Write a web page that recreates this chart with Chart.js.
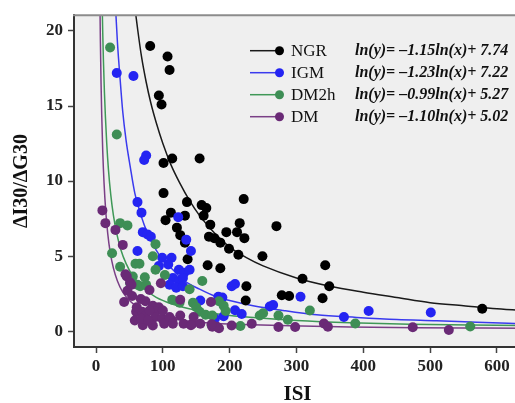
<!DOCTYPE html>
<html>
<head>
<meta charset="utf-8">
<script src="https://cdn.jsdelivr.net/npm/chart.js@4/dist/chart.umd.min.js"></script>
<style>
  body { margin: 0; overflow: hidden; background: #fff; }
  #wrap { width: 526px; height: 410px; }
</style>
</head>
<body>
<div id="wrap"><canvas id="chart" width="526" height="410"></canvas></div>
<script>
// --- data ---
const xTicks = [0, 100, 200, 300, 400, 500, 600];
const yTicks = [0, 5, 10, 15, 20];

const names = ['NGR', 'IGM', 'DM2h', 'DM'];
const equations = [
  'ln(y)= \u20131.15ln(x)+ 7.74',
  'ln(y)= \u20131.23ln(x)+ 7.22',
  'ln(y)= \u20130.99ln(x)+ 5.27',
  'ln(y)= \u20131.10ln(x)+ 5.02'
];
const dotColors = ['#000000', '#2424f2', '#3e8e55', '#6a2a76'];
const lineColors = ['#1a1a1a', '#3a3aee', '#3f9857', '#7a3f86'];

// scatter points
const ngrX = [81, 107, 110, 94, 98, 114, 155, 101, 101, 221, 136, 158, 165, 161, 112, 104, 133, 171, 215, 121, 126, 195, 211, 222, 169, 177, 186, 199, 213, 133, 137, 270, 249, 167, 186, 343, 225, 309, 349, 278, 289, 339, 224, 578];
const ngrY = [19.0, 18.3, 17.4, 15.7, 15.1, 11.5, 11.5, 11.2, 9.2, 8.8, 8.6, 8.4, 8.2, 7.7, 7.9, 7.4, 7.7, 7.1, 7.2, 6.9, 6.4, 6.6, 6.6, 6.2, 6.3, 6.2, 5.9, 5.5, 5.1, 5.9, 4.8, 7.0, 5.0, 4.4, 4.2, 4.4, 3.0, 3.5, 3.0, 2.4, 2.35, 2.2, 2.05, 1.5];

const igmX = [31, 56, 75, 72, 62, 68, 123, 70, 77, 82, 135, 142, 62, 99, 113, 94, 108, 124, 132, 140, 115, 124, 130, 110, 120, 130, 203, 208, 183, 189, 156, 260, 265, 208, 218, 191, 178, 306, 371, 408, 501];
const igmY = [17.2, 17.0, 11.7, 11.4, 8.6, 7.9, 7.6, 6.6, 6.45, 6.3, 6.1, 5.35, 5.35, 4.9, 4.9, 4.35, 4.45, 4.1, 3.9, 4.1, 3.55, 3.35, 3.55, 3.1, 2.9, 3.0, 3.0, 3.15, 2.3, 2.25, 2.05, 1.65, 1.75, 1.4, 1.15, 1.0, 0.85, 2.3, 0.95, 1.35, 1.25];

const dm2hX = [21, 31, 36, 47, 89, 24, 85, 59, 65, 36, 89, 103, 55, 73, 62, 66, 75, 51, 159, 140, 114, 125, 145, 150, 155, 164, 174, 184, 191, 194, 216, 173, 245, 250, 273, 287, 320, 388, 560];
const dm2hY = [18.9, 13.1, 7.2, 7.05, 5.8, 5.2, 5.0, 4.5, 4.5, 4.3, 4.1, 3.75, 3.65, 3.6, 3.1, 3.0, 3.1, 3.2, 3.35, 2.8, 2.1, 1.9, 1.9, 1.6, 1.3, 1.1, 1.05, 2.0, 1.7, 1.35, 0.35, 0.4, 1.05, 1.2, 1.05, 0.77, 1.38, 0.52, 0.32];

const dmX = [9.5, 14, 29, 40, 46, 51, 47, 54, 42, 60, 69, 97, 80, 67, 74, 85, 94, 89, 74, 82, 89, 99, 70, 85, 102, 114, 126, 131, 144, 156, 146, 126, 172, 181, 203, 233, 44, 53, 61, 80, 100, 58, 68, 78, 110, 115, 142, 174, 184, 173, 273, 298, 341, 347, 474, 528];
const dmY = [8.05, 7.2, 6.75, 5.75, 3.65, 3.25, 2.7, 2.35, 1.95, 1.3, 1.3, 3.2, 2.75, 2.15, 2.0, 1.7, 1.6, 1.3, 1.05, 0.72, 0.95, 0.83, 0.4, 0.38, 0.5, 0.72, 1.05, 0.5, 0.5, 0.5, 0.95, 2.1, 1.95, 0.3, 0.38, 0.5, 3.8, 3.1, 1.6, 1.38, 1.38, 0.72, 0.83, 0.72, 0.94, 0.5, 0.4, 0.3, 0.2, 0.46, 0.28, 0.28, 0.52, 0.3, 0.26, 0.08];

// fitted curves
const ngrFitX = [58, 62, 68, 75, 82, 90, 100, 112, 125, 140, 155, 170, 185, 200, 225, 250, 300, 350, 400, 450, 500, 550, 600, 650];
const ngrFitY = [21.6, 20.2, 18.3, 16.6, 15.2, 13.9, 12.5, 11.1, 9.9, 8.7, 7.7, 6.9, 6.2, 5.6, 4.9, 4.35, 3.55, 3.0, 2.6, 2.25, 1.9, 1.7, 1.5, 1.35];

const igmFitX = [29, 32, 36, 40, 45, 51, 58, 65, 72, 80, 90, 100, 115, 130, 155, 180, 200, 235, 280, 330, 390, 450, 510, 570, 640];
const igmFitY = [21.7, 19.25, 16.8, 14.6, 12.7, 11.0, 9.2, 8.05, 7.1, 6.25, 5.4, 4.75, 4.1, 3.43, 2.8, 2.3, 2.05, 1.7, 1.38, 1.09, 0.92, 0.78, 0.7, 0.6, 0.5];

const dm2hFitX = [9, 10, 11, 12.5, 14, 16, 18.5, 22, 26, 31, 37, 45, 55, 70, 90, 115, 150, 190, 240, 300, 380, 470, 560, 650];
const dm2hFitY = [22.1, 19.9, 18.1, 15.95, 14.3, 12.5, 10.8, 9.1, 7.72, 6.5, 5.45, 4.5, 3.68, 2.9, 2.26, 1.8, 1.4, 1.1, 0.9, 0.72, 0.57, 0.47, 0.42, 0.37];

const dmFitX = [5.7, 6.5, 7.5, 8.5, 10, 12, 14.5, 17.5, 21, 26, 32, 40, 50, 62, 78, 100, 130, 170, 220, 290, 380, 480, 580, 650];
const dmFitY = [22.3, 19.3, 16.5, 14.4, 12.0, 9.85, 8.0, 6.5, 5.3, 4.2, 3.35, 2.6, 2.05, 1.62, 1.26, 0.96, 0.72, 0.55, 0.45, 0.36, 0.29, 0.24, 0.21, 0.19];

// --- build datasets ---
const pts = (xs, ys) => xs.map((x, i) => ({ x: x, y: ys[i] }));
const scatterSets = [[ngrX, ngrY], [igmX, igmY], [dm2hX, dm2hY], [dmX, dmY]];
const fitSets = [[ngrFitX, ngrFitY], [igmFitX, igmFitY], [dm2hFitX, dm2hFitY], [dmFitX, dmFitY]];

const datasets = [];
fitSets.forEach((s, i) => {
  datasets.push({
    type: 'line',
    label: names[i] + ' fit',
    data: pts(s[0], s[1]),
    borderColor: lineColors[i],
    borderWidth: 1.5,
    pointRadius: 0,
    fill: false,
    cubicInterpolationMode: 'monotone',
    order: 20 + i
  });
});
scatterSets.forEach((s, i) => {
  datasets.push({
    type: 'scatter',
    label: names[i],
    data: pts(s[0], s[1]),
    backgroundColor: dotColors[i],
    borderWidth: 0,
    pointRadius: 5,
    pointHoverRadius: 5,
    order: 4 - i
  });
});

const serif = '"Liberation Serif", "Times New Roman", serif';

// plot background + top frame line
const frame = {
  id: 'frame',
  beforeDraw(chart) {
    const a = chart.chartArea, c = chart.ctx;
    c.save();
    c.fillStyle = '#efefef';
    c.fillRect(a.left, a.top, a.right - a.left, a.bottom - a.top);
    c.restore();
  },
  afterDraw(chart) {
    const a = chart.chartArea, c = chart.ctx;
    c.save();
    c.strokeStyle = '#8c8c8c';
    c.lineWidth = 2;
    c.beginPath();
    c.moveTo(a.left - 1, a.top);
    c.lineTo(a.right, a.top);
    c.stroke();
    c.restore();
  }
};

// legend with equations inside the plot
const legendBox = {
  id: 'legendBox',
  afterDatasetsDraw(chart) {
    const c = chart.ctx;
    c.save();
    names.forEach((n, i) => {
      const y = 50.7 + 22 * i;
      c.strokeStyle = lineColors[i];
      c.lineWidth = 1.5;
      c.beginPath();
      c.moveTo(250, y);
      c.lineTo(277, y);
      c.stroke();
      c.fillStyle = dotColors[i];
      c.beginPath();
      c.arc(279.5, y, 4.5, 0, Math.PI * 2);
      c.fill();
      c.fillStyle = '#111';
      c.textBaseline = 'middle';
      c.textAlign = 'left';
      c.font = '17px ' + serif;
      c.fillText(n, 291, y + 0.5);
      c.font = 'italic bold 16px ' + serif;
      c.fillText(equations[i], 355, y + 0.5);
    });
    c.restore();
  }
};

new Chart(document.getElementById('chart'), {
  type: 'scatter',
  data: { datasets: datasets },
  options: {
    responsive: false,
    animation: false,
    events: [],
    layout: { padding: { top: 10, left: 0, right: 0, bottom: 0 } },
    plugins: { legend: { display: false }, tooltip: { enabled: false } },
    scales: {
      x: {
        type: 'linear',
        min: -33,
        max: 636,
        afterFit: s => { s.height = 63; },
        afterBuildTicks: s => { s.ticks = xTicks.map(v => ({ value: v })); },
        border: { display: true, color: '#333', width: 2 },
        grid: { drawOnChartArea: false, drawTicks: true, tickLength: 6, tickColor: '#444', tickWidth: 1.5 },
        ticks: { color: '#222', padding: 3, maxRotation: 0, font: { family: serif, size: 17, weight: 'bold' } },
        title: { display: true, text: 'ISI', color: '#111', padding: { top: 0, bottom: 2.4 }, font: { family: serif, size: 21, weight: 'bold' } }
      },
      y: {
        type: 'linear',
        min: -1.05,
        max: 21.05,
        afterFit: s => { s.width = 74; },
        afterBuildTicks: s => { s.ticks = yTicks.map(v => ({ value: v })); },
        border: { display: true, color: '#333', width: 2 },
        grid: { drawOnChartArea: false, drawTicks: true, tickLength: 6, tickColor: '#444', tickWidth: 1.5 },
        ticks: { color: '#222', padding: 5, font: { family: serif, size: 17, weight: 'bold' } },
        title: { display: true, text: '\u0394I30/\u0394G30', color: '#111', padding: { top: 10, bottom: 0 }, font: { family: serif, size: 20, weight: 'bold' } }
      }
    }
  },
  plugins: [frame, legendBox]
});
</script>
</body>
</html>
